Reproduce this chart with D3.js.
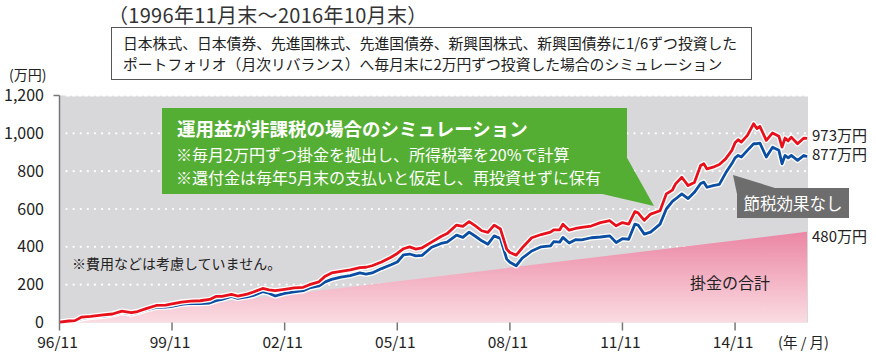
<!DOCTYPE html>
<html>
<head>
<meta charset="utf-8">
<script src="https://cdn.jsdelivr.net/npm/d3@7"></script>
<style>
  body { margin: 0; background: #fff; }
  svg text { font-family: "Noto Sans CJK JP", "Noto Sans", sans-serif; }
</style>
</head>
<body>
<div id="chart"></div>
<script>
// dates of the sampled month ends
const dates = [
  "1996-11","1997-02","1997-04","1997-06","1997-09","1998-01","1998-04","1998-07","1998-10","1998-12",
  "1999-03","1999-06","1999-09","1999-11","2000-02","2000-05","2000-08","2000-11","2001-01","2001-03",
  "2001-06","2001-08","2001-11","2002-01","2002-04","2002-06","2002-08","2002-11","2003-02","2003-05",
  "2003-07","2003-10","2003-12","2004-02","2004-05","2004-08","2004-11","2005-01","2005-03","2005-06",
  "2005-09","2005-11","2006-01","2006-03","2006-05","2006-07","2006-10","2007-01","2007-03","2007-06",
  "2007-08","2007-10","2007-12","2008-02","2008-04","2008-06","2008-08","2008-10","2008-11","2009-01",
  "2009-03","2009-06","2009-09","2009-12","2010-01","2010-03","2010-04","2010-06","2010-08","2010-10",
  "2011-01","2011-04","2011-07","2011-09","2011-11","2012-01","2012-03","2012-04","2012-06","2012-08",
  "2012-11","2013-01","2013-03","2013-04","2013-06","2013-08","2013-10","2013-12","2014-01","2014-02",
  "2014-04","2014-06","2014-08","2014-10","2014-11","2014-12","2015-01","2015-03","2015-05","2015-06",
  "2015-07","2015-09","2015-11","2016-01","2016-02","2016-03","2016-04","2016-05","2016-07","2016-09",
  "2016-10"
];

// 運用益が非課税の場合 (万円)
const taxFree = [
  2, 8, 10, 28, 32, 40, 45, 60, 52, 58,
  75, 90, 92, 98, 108, 113, 115, 122, 138, 138,
  149, 140, 150, 161, 180, 172, 168, 175, 183, 186,
  200, 215, 245, 262, 270, 278, 290, 292, 300, 320,
  345, 365, 390, 400, 388, 395, 425, 455, 470, 515,
  508, 533, 511, 485, 476, 515, 494, 388, 370, 356,
  395, 448, 465, 478, 490, 490, 520, 488, 497, 503,
  510, 528, 538, 511, 528, 520, 586, 580, 540, 573,
  591, 680, 700, 733, 768, 724, 740, 830, 839, 812,
  821, 835, 865, 910, 950, 966, 954, 989, 1051, 1025,
  1036, 963, 1002, 985, 927, 975, 960, 980, 945, 975,
  973
];

// 節税効果なし (万円)
const taxed = [
  2, 7, 8, 20, 28, 33, 42, 53, 45, 52,
  68, 80, 82, 85, 96, 101, 100, 103, 115, 122,
  138, 128, 136, 143, 163, 155, 140, 154, 162, 168,
  183, 193, 215, 228, 240, 248, 262, 256, 262, 285,
  305, 320, 358, 362, 352, 355, 398, 418, 425, 462,
  450, 478, 456, 432, 414, 458, 444, 335, 318, 300,
  340, 378, 400, 405, 427, 425, 450, 420, 438, 437,
  448, 452, 458, 423, 443, 440, 520, 515, 467, 478,
  520, 600, 640, 653, 680, 655, 688, 735, 742, 715,
  724, 730, 790, 840, 870, 883, 875, 910, 945, 945,
  948, 875, 927, 910, 839, 883, 870, 883, 857, 883,
  877
];

// 掛金の合計 (万円)
const contribDates = ["1996-11", "2016-10"];
const contribValues = [2, 480];

const yTicks = [0, 200, 400, 600, 800, 1000, 1200];
const xTickDates = ["1996-11", "1999-11", "2002-11", "2005-11", "2008-11", "2011-11", "2014-11"];

const parse = d3.timeParse("%Y-%m");

const width = 876, height = 353;
const margin = {top: 95.5, left: 59.5, right: 68, bottom: 30.5};

const svg = d3.select("#chart").append("svg")
    .attr("width", width)
    .attr("height", height);

const x = d3.scaleTime()
    .domain([parse("1996-11"), parse("2016-10")])
    .range([margin.left, width - margin.right - 1]);
const y = d3.scaleLinear()
    .domain([0, 1200])
    .range([height - margin.bottom, margin.top]);

const x0 = margin.left, x1 = width - margin.right;

// gradient for contributions
const defs = svg.append("defs");
const grad = defs.append("linearGradient")
    .attr("id", "pinkGrad")
    .attr("gradientUnits", "userSpaceOnUse")
    .attr("x1", 0).attr("x2", 0)
    .attr("y1", y(480)).attr("y2", y(0));
grad.append("stop").attr("offset", 0).attr("stop-color", "#eb86a4");
grad.append("stop").attr("offset", 1).attr("stop-color", "#fadce3");

// grey background
svg.append("rect")
    .attr("x", x0).attr("y", y(1200))
    .attr("width", x1 - x0).attr("height", y(0) - y(1200))
    .attr("fill", "#d8d8da");

// dotted grid
svg.append("g").selectAll("line")
    .data(yTicks.filter(d => d > 0))
    .join("line")
    .attr("x1", x0 + 7).attr("x2", x1)
    .attr("y1", d => y(d)).attr("y2", d => y(d))
    .attr("stroke", "#fff")
    .attr("stroke-width", 2.2)
    .attr("stroke-linecap", "round")
    .attr("stroke-dasharray", d => d === 1200 ? "3,3" : "0.1,7");

// contributions area
const contrib = contribDates.map((d, i) => ({date: parse(d), v: contribValues[i]}));
svg.append("path")
    .datum(contrib)
    .attr("fill", "url(#pinkGrad)")
    .attr("d", d3.area().x(d => x(d.date)).y0(y(0)).y1(d => y(d.v)));

// lines with white halo
const series = [
  {values: taxed, color: "#0b4ea2"},
  {values: taxFree, color: "#e8111b"}
];
const line = d3.line().x(d => x(d.date)).y(d => y(d.v));
series.forEach(s => {
    const pts = dates.map((d, i) => ({date: parse(d), v: s.values[i]}));
    svg.append("path").datum(pts)
        .attr("fill", "none").attr("stroke", "#fff")
        .attr("stroke-width", 5.5).attr("stroke-linejoin", "round")
        .attr("d", line);
    svg.append("path").datum(pts)
        .attr("fill", "none").attr("stroke", s.color)
        .attr("stroke-width", 2.8).attr("stroke-linejoin", "round")
        .attr("d", line);
});

// axes
const axisColor = "#777";
svg.append("line")
    .attr("x1", x0).attr("x2", x0)
    .attr("y1", y(1200)).attr("y2", y(0) + 8)
    .attr("stroke", axisColor).attr("stroke-width", 1.5);
svg.append("line")
    .attr("x1", x0 - 6).attr("x2", x0)
    .attr("y1", y(1200)).attr("y2", y(1200))
    .attr("stroke", axisColor).attr("stroke-width", 1.5);
svg.append("g").selectAll("line")
    .data(xTickDates.slice(1))
    .join("line")
    .attr("x1", d => x(parse(d))).attr("x2", d => x(parse(d)))
    .attr("y1", y(0)).attr("y2", y(0) + 8)
    .attr("stroke", axisColor).attr("stroke-width", 1.5);

svg.append("g").selectAll("text")
    .data(yTicks)
    .join("text")
    .attr("x", 44)
    .attr("y", d => y(d) + 5.5)
    .attr("text-anchor", "end")
    .attr("font-size", 16)
    .attr("fill", "#222")
    .text(d => d3.format(",")(d));

svg.append("g").selectAll("text")
    .data(xTickDates)
    .join("text")
    .attr("x", d => x(parse(d)) - 2)
    .attr("y", 348)
    .attr("text-anchor", "middle")
    .attr("font-size", 15.5)
    .attr("fill", "#222")
    .text(d => d3.timeFormat("%y/%m")(parse(d)));

svg.append("text")
    .attr("x", 9).attr("y", 80)
    .attr("font-size", 14).attr("fill", "#222")
    .text("(万円)");
svg.append("text")
    .attr("x", 778).attr("y", 348)
    .attr("font-size", 14.5).attr("fill", "#222")
    .text("(年 / 月)");

// title and description box
svg.append("text")
    .attr("x", 108).attr("y", 23)
    .attr("font-size", 20).attr("fill", "#333")
    .attr("letter-spacing", 0.3)
    .text("（1996年11月末～2016年10月末）");
svg.append("rect")
    .attr("x", 111.5).attr("y", 27.5)
    .attr("width", 640).attr("height", 52)
    .attr("fill", "#fff").attr("stroke", "#555");
svg.append("text")
    .attr("x", 123).attr("y", 49)
    .attr("font-size", 14.8).attr("fill", "#222")
    .text("日本株式、日本債券、先進国株式、先進国債券、新興国株式、新興国債券に1/6ずつ投資した");
svg.append("text")
    .attr("x", 123).attr("y", 70)
    .attr("font-size", 14.8).attr("fill", "#222")
    .text("ポートフォリオ（月次リバランス）へ毎月末に2万円ずつ投資した場合のシミュレーション");

// green callout
const green = "#55ae34";
svg.append("rect")
    .attr("x", 162).attr("y", 108)
    .attr("width", 465).attr("height", 86)
    .attr("fill", green);
svg.append("path")
    .attr("d", "M626,156 L654,206 L598,193 Z")
    .attr("fill", green);
svg.append("text")
    .attr("x", 177).attr("y", 136)
    .attr("font-size", 18.5).attr("font-weight", "bold").attr("fill", "#fff")
    .text("運用益が非課税の場合のシミュレーション");
svg.append("text")
    .attr("x", 176).attr("y", 161)
    .attr("font-size", 16).attr("fill", "#fff")
    .text("※毎月2万円ずつ掛金を拠出し、所得税率を20%で計算");
svg.append("text")
    .attr("x", 176).attr("y", 184)
    .attr("font-size", 16).attr("fill", "#fff")
    .text("※還付金は毎年5月末の支払いと仮定し、再投資せずに保有");

// grey callout
const grey = "#6d6d6d";
svg.append("path")
    .attr("d", "M737,194 L733,175 L775,188 Z")
    .attr("fill", grey);
svg.append("rect")
    .attr("x", 737).attr("y", 188)
    .attr("width", 112).attr("height", 30)
    .attr("fill", grey);
svg.append("text")
    .attr("x", 793).attr("y", 210)
    .attr("text-anchor", "middle")
    .attr("font-size", 16.5).attr("fill", "#fff")
    .text("節税効果なし");

// notes
svg.append("text")
    .attr("x", 72).attr("y", 269)
    .attr("font-size", 14).attr("fill", "#222")
    .text("※費用などは考慮していません。");
svg.append("text")
    .attr("x", 730).attr("y", 289)
    .attr("text-anchor", "middle")
    .attr("font-size", 16).attr("fill", "#222")
    .text("掛金の合計");

// end labels
const endLabels = [
  {text: taxFree[taxFree.length - 1] + "万円", y: 141},
  {text: taxed[taxed.length - 1] + "万円", y: 160},
  {text: contribValues[contribValues.length - 1] + "万円", y: 242}
];
svg.append("g").selectAll("text")
    .data(endLabels)
    .join("text")
    .attr("x", 812).attr("y", d => d.y)
    .attr("font-size", 15).attr("fill", "#222")
    .text(d => d.text);
</script>
</body>
</html>
